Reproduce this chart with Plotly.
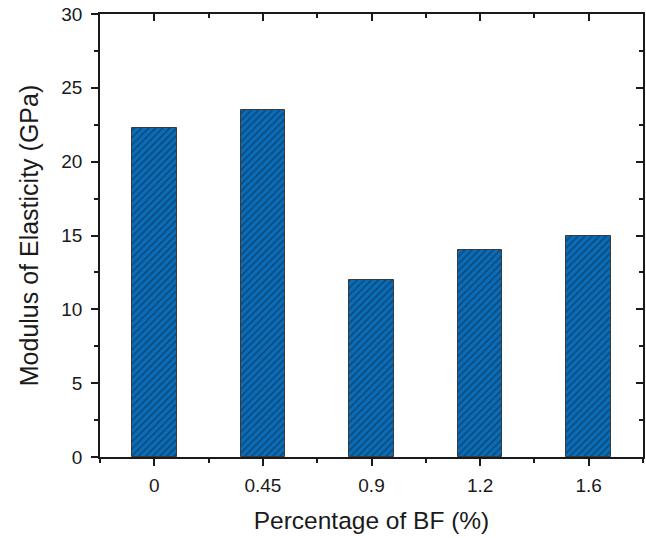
import plotly.graph_objects as go

categories = ["0", "0.45", "0.9", "1.2", "1.6"]
modulus_gpa = [22.3, 23.5, 12.0, 14.0, 15.0]
y_tick_values = [0, 5, 10, 15, 20, 25, 30]

positions = list(range(len(categories)))
FONT = "Liberation Sans, Arial, sans-serif"
INK = "#1a1a1a"

fig = go.Figure()
fig.add_trace(go.Bar(
    x=positions, y=modulus_gpa, width=0.41,
    marker=dict(
        color="#0a6cb6",
        line=dict(color="#3a3a3a", width=1),
        pattern=dict(shape="/", fgcolor="#0c2740", bgcolor="#0a6cb6",
                     size=5, solidity=0.33),
    ),
    showlegend=False,
))

axis_common = dict(showline=True, linecolor=INK, linewidth=1.5,
                   showgrid=False, zeroline=False, mirror=False)

fig.update_layout(
    width=646, height=538,
    margin=dict(l=100, r=3, t=14, b=81),
    paper_bgcolor="white", plot_bgcolor="white",
    font=dict(family=FONT, color=INK, size=19),
    xaxis=dict(
        **axis_common, range=[-0.5, len(categories) - 0.5],
        tickmode="array", tickvals=positions, ticktext=categories,
        ticks="outside", ticklen=7, tickwidth=1.5, tickcolor=INK,
        ticklabelstandoff=3,
        minor=dict(tickmode="linear", tick0=-0.5, dtick=1, ticks="outside",
                   ticklen=4, tickwidth=1.5, tickcolor=INK),
        title=dict(text="Percentage of BF (%)", font=dict(size=24.5), standoff=17),
        tickfont=dict(size=19),
    ),
    yaxis=dict(
        **axis_common, range=[0, 30],
        tickmode="array", tickvals=y_tick_values,
        ticks="outside", ticklen=7, tickwidth=1.5, tickcolor=INK,
        ticklabelstandoff=5,
        minor=dict(tickmode="linear", tick0=2.5, dtick=5, ticks="outside",
                   ticklen=4, tickwidth=1.5, tickcolor=INK),
        title=dict(text="Modulus of Elasticity (GPa)", font=dict(size=25), standoff=16),
        tickfont=dict(size=19),
    ),
    xaxis2=dict(
        **axis_common, overlaying="x", side="top", anchor="y",
        range=[-0.5, len(categories) - 0.5],
        tickmode="array", tickvals=positions, showticklabels=False,
        ticks="inside", ticklen=7, tickwidth=1.5, tickcolor=INK,
        minor=dict(tickmode="linear", tick0=-0.5, dtick=1, ticks="inside",
                   ticklen=4, tickwidth=1.5, tickcolor=INK),
    ),
    yaxis2=dict(
        **axis_common, overlaying="y", side="right", anchor="x",
        range=[0, 30],
        tickmode="array", tickvals=y_tick_values, showticklabels=False,
        ticks="inside", ticklen=7, tickwidth=1.5, tickcolor=INK,
        minor=dict(tickmode="linear", tick0=2.5, dtick=5, ticks="inside",
                   ticklen=4, tickwidth=1.5, tickcolor=INK),
    ),
    bargap=0,
)
fig.add_trace(go.Scatter(x=[None], y=[None], xaxis="x2", yaxis="y2",
                         showlegend=False, hoverinfo="skip"))

fig.write_html("out.html")
